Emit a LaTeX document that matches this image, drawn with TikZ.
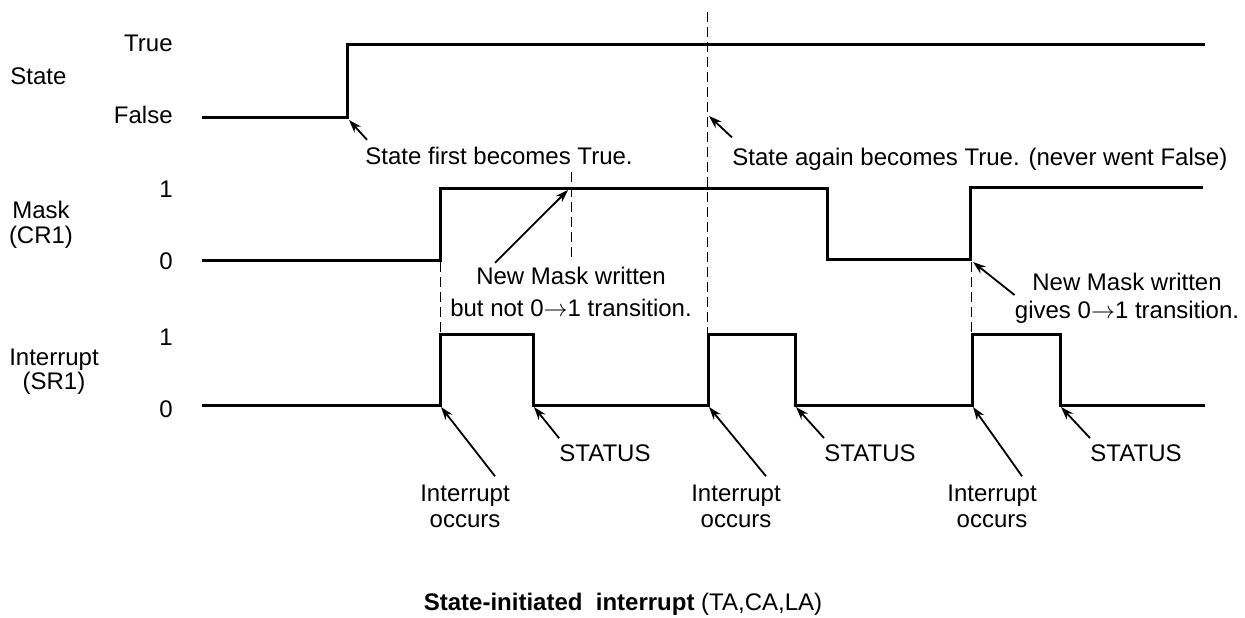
\documentclass[tikz,border=0pt]{standalone}
\usepackage{fontspec}
\setmainfont{Liberation Sans}
\usetikzlibrary{arrows.meta}

\begin{document}
\begin{tikzpicture}[x=0.5pt,y=-0.5pt,>={Stealth[length=6.5pt,width=4.4pt]},
                    font=\fontsize{12}{13}\selectfont,
                    every node/.style={inner sep=0pt},
                    signal/.style={line width=1.5pt},
                    guide/.style={line width=0.5pt,dash pattern=on 5pt off 2.5pt},
                    pointer/.style={->,line width=0.9pt},
                    level/.style={anchor=east},
                    occurs/.style={align=center,font=\fontsize{12}{13}\selectfont}]
  \useasboundingbox (0,0) rectangle (1245,617);

  % signal names and levels
  \node[anchor=west] (state) at (10,76) {State};
  \node[align=center,font=\fontsize{12}{12.5}\selectfont] (mask) at (41,224.5) {Mask\\(CR1)};
  \node[align=center,font=\fontsize{12}{11}\selectfont] (intr) at (54,371.7) {Interrupt\\(SR1)};
  \node[level] (true)  at (173,43.5)  {True};
  \node[level] (false) at (173,114.5) {False};
  \node[level] (m1) at (173,189.5) {1};
  \node[level] (m0) at (173,261.5) {0};
  \node[level] (i1) at (173,337.5) {1};
  \node[level] (i0) at (173,409.5) {0};

  % waveforms
  \draw[signal] (202,117) -| (347,44) -- (1205,44);
  \draw[signal] (202,260) -| (440,188) -| (827,259) -| (970,187) -- (1203,187);
  \draw[signal] (202,405) -| (440,334) -| (533,405) -| (708,334)
                -| (795,405) -| (972,334) -| (1060,405) -- (1205,405);

  % dashed guides
  \draw[guide] (707,12) -- (707,333);
  \draw[guide] (571,172) -- (571,258);
  \draw[guide] (440,262) -- (440,333);
  \draw[guide] (971,262) -- (971,333);

  % points the notes refer to
  \coordinate (rise1) at (349,120);
  \coordinate (rise2) at (709,116);
  \coordinate (write1) at (568,190);
  \coordinate (write2) at (973,262);
  \coordinate (irq1) at (441,407);
  \coordinate (irq2) at (709,407);
  \coordinate (irq3) at (973,407);
  \coordinate (clr1) at (534,407);
  \coordinate (clr2) at (796,407);
  \coordinate (clr3) at (1061,407);

  % notes
  \node[anchor=west] (first) at (365,156) {State first becomes True.};
  \node[anchor=west] (again) at (732,159) {State again becomes True. (never went False)};
  \node[align=center,font=\fontsize{12}{16}\selectfont] (nm1) at (571,292)
       {New Mask written\\but not 0$\rightarrow$1 transition.};
  \node[align=center,font=\fontsize{12}{14}\selectfont] (nm2) at (1127,298)
       {New Mask written\\gives 0$\rightarrow$1 transition.};
  \node (st1) at (605,453) {STATUS};
  \node (st2) at (870,453) {STATUS};
  \node (st3) at (1136,453) {STATUS};
  \node[occurs] (io1) at (465,506) {Interrupt\\occurs};
  \node[occurs] (io2) at (736,506) {Interrupt\\occurs};
  \node[occurs] (io3) at (992,506) {Interrupt\\occurs};

  \draw[pointer] ([xshift=1pt,yshift=3.5pt]first.north west) -- (rise1);
  \draw[pointer] ([yshift=5pt]again.north west) -- (rise2);
  \draw[pointer] ([xshift=-38pt,yshift=2pt]nm1.north) -- (write1);
  \draw[pointer] ([yshift=1.5pt]nm2.west) -- (write2);
  \draw[pointer] ([xshift=15pt,yshift=4pt]io1.north) -- (irq1);
  \draw[pointer] ([xshift=15pt,yshift=4pt]io2.north) -- (irq2);
  \draw[pointer] ([xshift=15pt,yshift=4pt]io3.north) -- (irq3);
  \draw[pointer] ([yshift=3pt]st1.north west) -- (clr1);
  \draw[pointer] ([yshift=3pt]st2.north west) -- (clr2);
  \draw[pointer] ([yshift=3pt]st3.north west) -- (clr3);

  % caption
  \node (caption) at (623,604) {\textbf{State-initiated~ interrupt} (TA,CA,LA)};
\end{tikzpicture}
\end{document}
